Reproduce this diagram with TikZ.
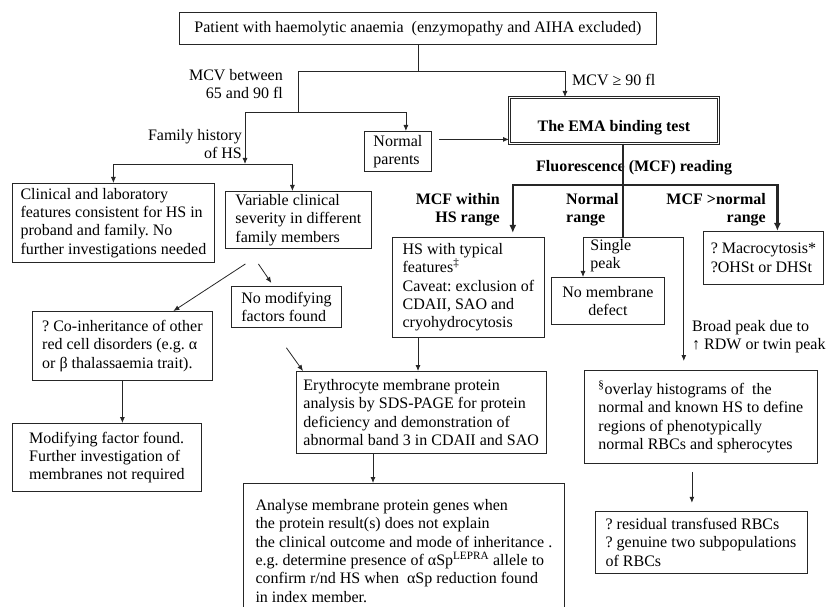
\documentclass[tikz,border=0pt]{standalone}
\usepackage{fontspec}
\setmainfont{Liberation Serif}
\usetikzlibrary{arrows.meta, positioning, calc}
\frenchspacing

\begin{document}
\begin{tikzpicture}[x=1pt, y=-1pt,
  txt/.style={font=\fontsize{16}{18.3}\selectfont},
  box/.style={txt, draw=black!85, line width=0.8pt, align=left, anchor=north west,
              inner xsep=7pt, inner ysep=3pt},
  lab/.style={txt, align=left, inner sep=0pt},
  hdr/.style={lab, font=\fontsize{16}{18.3}\selectfont\bfseries},
  line/.style={draw=black!85, line width=0.8pt},
  arr/.style={line, -{Latex[length=6pt,width=5pt]}},
  heavy/.style={draw=black!85, line width=2.5pt},
  heavyarr/.style={heavy, -{Latex[length=8pt,width=7pt]}}
]
  \useasboundingbox (0,0) rectangle (831,607);

  % entry and MCV split
  \node[box, align=center, minimum width=477pt, minimum height=32pt] (patient) at (179,12)
    {Patient with haemolytic anaemia\ \ (enzymopathy and AIHA excluded)};
  \node[box, minimum width=67pt, minimum height=40pt] (parents) at (364,131) {Normal\\parents};
  \node[box, double, double distance=1.6pt, line width=0.7pt, align=center,
        minimum width=209pt, text height=30pt, text depth=8pt, inner ysep=4pt] (ema) at (509,97)
    {\bfseries The EMA binding test};

  \node[lab, align=right, anchor=east] (mcvlow) at (283,84) {MCV between\\65 and 90 fl};
  \node[lab, anchor=west] (mcvhigh) at (572,80) {MCV ≥ 90 fl};
  \node[lab, align=right, anchor=east] (famhist) at (242,144) {Family history\\of HS};

  % family history branch
  \node[box, minimum width=202pt, minimum height=79pt] (clinical) at (12,183)
    {Clinical and laboratory\\features consistent for HS in\\proband and family. No\\further investigations needed};
  \node[box, minimum width=146pt, minimum height=57pt] (variable) at (225,191)
    {Variable clinical\\severity in different\\family members};
  \node[box, minimum width=110pt, minimum height=41pt] (nomod) at (231,286)
    {No modifying\\factors found};
  \node[box, minimum width=180pt, minimum height=69pt] (coinh) at (32,311)
    {? Co-inheritance of other\\red cell disorders (e.g. α\\or β thalassaemia trait).};
  \node[box, minimum width=189pt, minimum height=68pt] (modif) at (12,423)
    {Modifying factor found.\\Further investigation of\\membranes not required};

  % EMA readings
  \node[hdr, anchor=west] (fluor) at (536,168) {Fluorescence (MCF) reading};
  \node[hdr, align=right, anchor=east] (inhs) at (500,210) {MCF within\\HS range};
  \node[hdr, anchor=west] (normal) at (566,210) {Normal\\range};
  \node[hdr, align=right, anchor=east] (above) at (766,210) {MCF >normal\\range};

  \node[box, minimum width=152pt, minimum height=100pt] (hs) at (392,237)
    {HS with typical\\features\textsuperscript{‡}\\Caveat: exclusion of\\CDAII, SAO and\\cryohydrocytosis};
  \node[box, draw=none, text width=86pt, inner ysep=2pt] (single) at (583,237) {Single\\peak};
  \node[box, align=center, minimum width=113pt, minimum height=47pt] (nomem) at (551,277)
    {No membrane\\defect};
  \node[box, inner xsep=3pt, minimum width=120pt, minimum height=53pt] (macro) at (703,231)
    {? Macrocytosis*\\?OHSt or DHSt};
  \node[lab, anchor=west] (broad) at (692,337) {Broad peak due to\\↑ RDW or twin peak};

  \node[box, minimum width=233pt, minimum height=93pt] (overlay) at (584,370)
    {\textsuperscript{§}overlay histograms of\ \ the\\normal and known HS to define\\regions of phenotypically\\normal RBCs and spherocytes};
  \node[box, below=47pt of overlay, minimum width=212pt, minimum height=62pt] (residual)
    {? residual transfused RBCs\\? genuine two subpopulations\\of RBCs};

  % membrane protein analysis
  \node[box, minimum width=248pt, minimum height=82pt] (ery) at (296,371)
    {Erythrocyte membrane protein\\analysis by SDS-PAGE for protein\\deficiency and demonstration of\\abnormal band 3 in CDAII and SAO};
  \node[box, minimum width=321pt, minimum height=135pt] (analyse) at (243,483)
    {Analyse membrane protein genes when\\the protein result(s) does not explain\\the clinical outcome and mode of inheritance .\\e.g. determine presence of αSp\textsuperscript{LEPRA} allele to\\confirm r/nd HS when\ \ αSp reduction found\\in index member.};

  % junctions
  \coordinate (jtop) at (patient.south |- 0,71);
  \coordinate (jmid) at (298,112);
  \coordinate (jfam) at (245,164);
  \coordinate (jmcf) at (623,185);
  \coordinate (pout) at ([yshift=12pt]parents.east);
  \coordinate (hsout) at ([xshift=26pt]hs.south west);
  \coordinate (eryout) at ([xshift=77pt]ery.south west);
  \coordinate (ovout) at ([xshift=-9pt]overlay.south);

  \draw[line] (patient.south) -- (jtop);
  \draw[arr] (jtop) -| ([xshift=56pt]ema.north west);
  \draw[line] (jtop) -| (jmid);
  \draw[arr] (jmid) -| ([xshift=8pt]parents.north);
  \draw[arr] (jmid) -| (jfam);
  \draw[arr] (jfam) -| (clinical.north);
  \draw[arr] (jfam) -| ([xshift=-6pt]variable.north);
  \draw[arr, shorten <=7pt] (pout) -- (pout -| ema.west);

  \draw[arr] ([xshift=-53pt, yshift=-15pt]variable.south) -- ([xshift=51pt]coinh.north);
  \draw[arr] ([xshift=-40pt, yshift=-15pt]variable.south) -- ([xshift=-15pt, yshift=3pt]nomod.north);
  \draw[arr] ([yshift=-20pt]nomod.south) -- ([xshift=7pt]ery.north west);
  \draw[arr] (coinh.south) -- (coinh.south |- modif.north);

  \draw[heavy] (ema.south -| jmcf) -- (single.north -| jmcf);
  \draw[heavyarr, shorten >=4pt] (jmcf) -| ([xshift=-32pt]hs.north east);
  \draw[heavyarr] (jmcf) -| ([xshift=14pt]macro.north);

  \draw[line] (single.north west) -- (single.north east);
  \draw[arr] (single.north west) -- (single.north west |- nomem.north);
  \draw[arr, shorten >=9pt] (single.north east) -- (single.north east |- overlay.north);
  \draw[arr, shorten <=8pt, shorten >=8pt] (ovout) -- (ovout |- residual.north);

  \draw[arr] (hsout) -- (hsout |- ery.north);
  \draw[arr] (eryout) -- (eryout |- analyse.north);
\end{tikzpicture}
\end{document}
